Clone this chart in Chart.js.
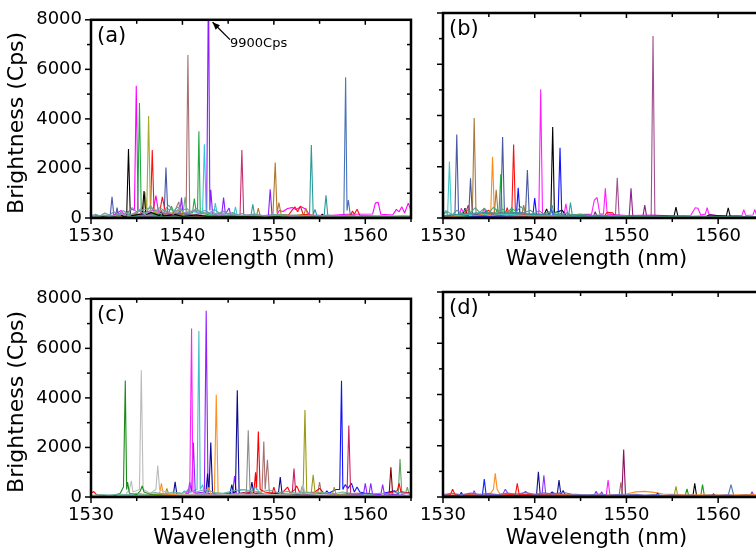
<!DOCTYPE html>
<html>
<head>
<meta charset="utf-8">
<script src="https://cdn.jsdelivr.net/npm/chart.js@4.4.1/dist/chart.umd.min.js"></script>
<style>
  html, body { margin: 0; padding: 0; background: #fff; overflow: hidden; }
  body { width: 756px; height: 552px; position: relative; }
  canvas { position: absolute; }
</style>
</head>
<body>
<canvas id="panelA" width="420" height="270" style="left:0;top:0"></canvas>
<canvas id="panelB" width="373" height="270" style="left:400px;top:0"></canvas>
<canvas id="panelC" width="420" height="270" style="left:0;top:279px"></canvas>
<canvas id="panelD" width="373" height="270" style="left:400px;top:279px"></canvas>
<script>
// axis ticks (nm / counts per second)
const wlTicks = [1530, 1535, 1540, 1545, 1550, 1555, 1560, 1565];
const cpsTicks = [0, 1000, 2000, 3000, 4000, 5000, 6000, 7000, 8000];

// strongest line in (a) runs off the top of the axis
const peakWl = 1542.85;
const peakCps = 9900;

// spectra, each trace is a list of [wavelength nm, brightness Cps]
const tracesA = [
  [[1530,30],[1540,40],[1550,30],[1565,40]],
  [[1530,90],[1530.5,150],[1531,80],[1531.5,200],[1532,120],[1532.5,250],[1533,140],[1533.5,300],[1534,180],[1534.5,420],[1535,250],[1535.5,380],[1536,200],[1536.5,500],[1537,260],[1537.5,420],[1538,300],[1538.5,520],[1539,260],[1539.5,450],[1540,300],[1540.5,380],[1541,220],[1541.5,400],[1542,250],[1542.5,300],[1543,180],[1543.5,350],[1544,200],[1544.5,280],[1545,150],[1545.5,220],[1546,120],[1546.5,180],[1547,100],[1548,150],[1549,90],[1550,130],[1551,80],[1552,120],[1553,90],[1554,110],[1555,80],[1556,120],[1557,70],[1558,100],[1559,60],[1560,90],[1561,60],[1562,80],[1563,60],[1564,90],[1565,70]],
  [[1530,50],[1531.2,100],[1532,60],[1533.4,150],[1534.2,90],[1535.2,300],[1535.9,140],[1536.8,350],[1537.6,180],[1538.3,250],[1539,150],[1539.7,420],[1540.2,200],[1541.2,300],[1542,150],[1543.2,250],[1544,120],[1545.2,200],[1546.5,100],[1547.8,160],[1549,70],[1550.2,110],[1552,60],[1554,90],[1556,60],[1558,80],[1560,50],[1562,70],[1565,50]],
  [[1530,100],[1530.6,60],[1531.5,120],[1532.5,80],[1533.5,200],[1534.5,150],[1535.5,300],[1536.5,400],[1537.5,250],[1538.5,350],[1539.5,280],[1540.1,300],[1540.3,850],[1540.5,200],[1541.5,300],[1542.5,200],[1543.5,150],[1544.5,200],[1546,100],[1547.5,120],[1549,80],[1550.5,150],[1552,90],[1554,100],[1556,80],[1558,100],[1560,60],[1562,80],[1564,70],[1565,80]],
  [[1530,40],[1530.8,90],[1531.5,50],[1532.6,70],[1533.2,180],[1533.5,60],[1533.9,70],[1534.1,2780],[1534.3,90],[1535,130],[1535.6,160],[1535.8,1090],[1536,140],[1536.6,220],[1537.5,90],[1537.7,300],[1537.9,80],[1539.2,140],[1540,60],[1541.5,120],[1543,50],[1546,70],[1549,40],[1552,60],[1555.1,60],[1555.3,160],[1555.5,50],[1558,40],[1562,60],[1565,40]],
  [[1530,30],[1531.5,60],[1533,90],[1534.6,150],[1535.1,200],[1535.3,4640],[1535.5,180],[1536.2,250],[1537,120],[1538.5,200],[1538.8,480],[1539.1,150],[1540,180],[1541.1,200],[1541.3,780],[1541.5,250],[1541.65,300],[1541.8,3500],[1541.95,200],[1543,120],[1545,80],[1547.5,100],[1550,60],[1554,80],[1558,60],[1561,50],[1565,60]],
  [[1530,20],[1532,50],[1534,90],[1535.7,200],[1535.9,1050],[1536.1,300],[1536.3,4120],[1536.5,250],[1537.2,200],[1538,160],[1539.5,250],[1539.8,450],[1540.1,120],[1542,90],[1545,60],[1550,40],[1555,50],[1560,40],[1565,30]],
  [[1530,30],[1532,40],[1534,80],[1535.4,150],[1535.6,420],[1535.8,120],[1536.5,200],[1536.7,2740],[1536.9,200],[1537.5,200],[1537.8,850],[1538.1,300],[1538.6,150],[1540,100],[1543,60],[1546,50],[1550,80],[1551.6,120],[1552,320],[1552.3,450],[1552.6,250],[1552.9,480],[1553.2,150],[1555,80],[1557,60],[1558.4,120],[1558.6,280],[1558.8,150],[1559.1,350],[1559.4,100],[1562,60],[1565,40]],
  [[1530,70],[1531,80],[1532.1,90],[1532.3,860],[1532.5,100],[1532.7,110],[1532.85,420],[1533.0,90],[1534.5,100],[1536,150],[1538,180],[1538.2,2040],[1538.4,150],[1539.5,200],[1541,110],[1543,90],[1545,60],[1548,50],[1552,60],[1556,50],[1560,40],[1565,40]],
  [[1530,50],[1533,60],[1536,120],[1539,150],[1539.6,650],[1539.8,200],[1540.4,150],[1540.6,6580],[1540.8,160],[1542,110],[1545,70],[1548,60],[1552,50],[1556,60],[1560,40],[1565,50]],
  [[1530,40],[1534,60],[1537,120],[1540,200],[1541,250],[1542.2,200],[1542.4,2980],[1542.6,200],[1543.4,120],[1543.6,600],[1543.8,150],[1545.6,100],[1545.8,450],[1546.0,100],[1548,70],[1552,50],[1556,60],[1560,40],[1565,50]],
  [[1530,40],[1534,70],[1537,90],[1539.5,120],[1539.75,300],[1539.9,830],[1540.05,200],[1541,130],[1542.65,200],[peakWl,peakCps],[1543.0,300],[1543.1,1140],[1543.3,150],[1544.3,150],[1544.5,820],[1544.7,150],[1545.1,400],[1545.3,120],[1547,80],[1549.4,100],[1549.6,1160],[1549.8,100],[1552,60],[1556,50],[1560,40],[1565,40]],
  [[1530,30],[1535,80],[1540,120],[1544,90],[1546.3,100],[1546.5,2740],[1546.7,120],[1548,70],[1552,60],[1556,40],[1560,50],[1565,30]],
  [[1530,20],[1534,60],[1537,100],[1540,120],[1544,70],[1548.1,80],[1548.3,400],[1548.5,90],[1549.9,120],[1550.15,2240],[1550.35,200],[1550.55,620],[1550.8,150],[1552,100],[1553.3,150],[1553.5,400],[1553.7,120],[1556,60],[1560,40],[1565,50]],
  [[1530,60],[1533,80],[1536,100],[1539,120],[1542,100],[1545,80],[1547.5,100],[1547.7,550],[1547.9,100],[1550,90],[1553.9,100],[1554.1,2950],[1554.3,120],[1554.5,350],[1554.7,100],[1555.5,100],[1555.7,920],[1555.9,90],[1558,60],[1562,70],[1565,60]],
  [[1530,40],[1535,60],[1540,80],[1545,60],[1550,50],[1555,60],[1557.65,80],[1557.85,5680],[1558.0,300],[1558.15,720],[1558.35,150],[1559,60],[1561,50],[1565,40]],
  [[1530,60],[1531,80],[1532.5,120],[1533.3,300],[1533.6,150],[1534.5,350],[1534.75,300],[1534.95,5340],[1535.15,300],[1536,250],[1536.8,300],[1537.1,900],[1537.4,200],[1538.5,150],[1540,100],[1544,80],[1548,90],[1550.3,120],[1550.6,300],[1551,260],[1551.5,380],[1552,420],[1552.4,340],[1553,450],[1553.5,350],[1553.9,120],[1556,100],[1558,150],[1560.8,160],[1561.1,600],[1561.4,640],[1561.7,150],[1563,120],[1563.4,350],[1563.7,250],[1564,450],[1564.3,200],[1564.7,600],[1565,300]]
];
const colorsA = ['#207a20', '#6aa0a0', '#b080d0', '#70a880', '#000000', '#22aa44', '#a8a830', '#ff1010', '#4858a8', '#a87070',
  '#30c8d8', '#8a1cff', '#c83070', '#b07828', '#2a9a9a', '#4a74b8', '#ff00ff'];

const tracesB = [
  [[1530,20],[1540,25],[1550,20],[1565,25]],
  [[1530,150],[1530.5,250],[1531,120],[1531.5,300],[1532,180],[1532.5,350],[1533,200],[1533.5,400],[1534,220],[1534.5,380],[1535,200],[1535.5,420],[1536,250],[1536.5,350],[1537,200],[1537.5,380],[1538,250],[1538.5,450],[1539,220],[1539.5,300],[1540,180],[1540.5,280],[1541,150],[1541.5,250],[1542,180],[1542.5,220],[1543,150],[1543.5,200],[1544,120],[1545,150],[1546,90],[1547,120],[1548,80],[1549,110],[1550,70],[1552,90],[1554,60],[1556,80],[1558,60],[1560,70],[1562,50],[1565,60]],
  [[1530,100],[1532,150],[1534,200],[1536,180],[1538,200],[1539.5,150],[1541.7,150],[1541.9,500],[1542.1,150],[1543.7,100],[1543.9,600],[1544.1,100],[1546,80],[1550,60],[1555,70],[1560,60],[1565,50]],
  [[1530,60],[1530.3,300],[1530.5,120],[1530.7,2200],[1530.9,120],[1531.6,100],[1533,150],[1534,200],[1535,100],[1537,150],[1539,100],[1542,90],[1545,60],[1550,50],[1555,40],[1560,50],[1565,40]],
  [[1530,80],[1531.3,100],[1531.5,3260],[1531.7,120],[1532.8,100],[1533.0,1550],[1533.2,120],[1534.5,200],[1536.3,150],[1536.5,3160],[1536.7,150],[1538,200],[1539.0,200],[1539.2,1870],[1539.4,150],[1541,100],[1544,80],[1548,60],[1552,50],[1556,60],[1560,40],[1565,50]],
  [[1530,50],[1532,100],[1533.2,150],[1533.4,3900],[1533.6,150],[1534.8,200],[1535.6,200],[1535.8,1100],[1536,200],[1537,250],[1538.6,150],[1538.8,500],[1539,150],[1541,100],[1545,70],[1550,50],[1555,40],[1560,50],[1565,40]],
  [[1530,40],[1532.6,100],[1532.8,350],[1533,100],[1534.5,150],[1535.2,150],[1535.4,2390],[1535.6,150],[1537,100],[1540,80],[1545,60],[1550,50],[1555,40],[1560,40],[1565,30]],
  [[1530,30],[1532,60],[1534,100],[1535.7,120],[1535.9,350],[1536.1,150],[1536.3,1720],[1536.45,150],[1537.3,150],[1537.5,420],[1537.7,120],[1540,80],[1545,60],[1550,40],[1555,50],[1560,40],[1565,30]],
  [[1530,50],[1531.5,100],[1532.5,200],[1532.75,500],[1533,150],[1534,150],[1535,300],[1535.3,100],[1536.8,150],[1537.0,400],[1537.2,150],[1537.5,150],[1537.7,2870],[1537.9,150],[1539,150],[1540.5,100],[1543,80],[1546,60],[1547.6,80],[1547.9,220],[1548.5,200],[1548.8,60],[1552,50],[1556,40],[1560,50],[1565,40]],
  [[1530,40],[1533,60],[1536,80],[1538.0,100],[1538.2,1180],[1538.4,100],[1539.8,100],[1540.0,780],[1540.2,120],[1541.6,100],[1541.8,380],[1542,120],[1542.55,120],[1542.76,2740],[1542.95,120],[1545,60],[1550,50],[1555,40],[1560,50],[1565,40]],
  [[1530,60],[1531,100],[1532.2,150],[1532.4,380],[1532.6,150],[1534,120],[1537,100],[1539,80],[1541,120],[1541.3,350],[1541.5,150],[1541.76,200],[1541.96,3550],[1542.15,200],[1543,300],[1543.4,100],[1545,120],[1548,80],[1550,60],[1552,80],[1555.2,80],[1555.4,420],[1555.6,80],[1557,60],[1558.8,80],[1559,120],[1560.9,80],[1561.1,400],[1561.3,80],[1563,60],[1565,60]],
  [[1530,20],[1535,40],[1540,30],[1545,40],[1546.4,60],[1546.6,250],[1546.8,60],[1550.3,60],[1550.5,1160],[1550.7,60],[1551.8,60],[1552.0,500],[1552.2,60],[1555,30],[1560,20],[1565,30]],
  [[1530,40],[1535,80],[1540,60],[1545,70],[1548.8,80],[1549.0,1570],[1549.2,80],[1550,60],[1552.7,80],[1552.9,7100],[1553.1,80],[1555,50],[1560,40],[1565,40]],
  [[1530,80],[1531,120],[1531.8,120],[1532,380],[1532.3,150],[1534.2,150],[1534.5,350],[1534.8,150],[1536,150],[1538.5,120],[1540.45,150],[1540.65,5020],[1540.85,150],[1542,100],[1543.2,120],[1543.4,550],[1543.6,120],[1546.2,150],[1546.5,700],[1546.8,800],[1547.1,150],[1547.5,150],[1547.7,1160],[1547.9,150],[1550,100],[1553,120],[1555,80],[1557,100],[1557.5,400],[1557.8,380],[1558.1,120],[1558.6,150],[1558.8,400],[1559.0,150],[1560,80],[1562.6,100],[1562.8,330],[1563,100],[1563.8,120],[1564.0,330],[1564.2,100],[1565,60]]
];
const colorsB = ['#202060', '#50a080', '#30a0a0', '#40c8c8', '#4a58a0', '#a87838', '#ff8a10', '#20b040', '#ff1010',
  '#1010ff', '#000000', '#8a2088', '#a05090', '#ff20ff'];

const tracesC = [
  [[1530,60],[1531,100],[1532,70],[1533,120],[1534,90],[1535,150],[1536,100],[1537,180],[1538,120],[1539,200],[1540,150],[1540.5,250],[1541.5,200],[1542.5,300],[1543.5,180],[1544.5,150],[1545.5,250],[1546.5,300],[1547.5,250],[1548.5,200],[1549.5,280],[1550.5,180],[1551.5,220],[1552.5,150],[1553.5,200],[1554.5,150],[1555.5,180],[1556.5,120],[1557.5,200],[1558.5,150],[1559.5,120],[1560.5,100],[1561.5,150],[1562.5,120],[1563.5,180],[1564.5,150],[1565,120]],
  [[1530,20],[1531.5,60],[1532.5,40],[1533.2,150],[1533.55,400],[1533.75,4700],[1533.9,300],[1534.0,600],[1534.2,150],[1535.0,100],[1535.4,250],[1535.6,450],[1535.8,200],[1536.5,100],[1538,60],[1540,40],[1545,30],[1550,40],[1555,30],[1560,40],[1565,30]],
  [[1530,50],[1532,80],[1533.8,100],[1534.2,300],[1534.4,650],[1534.6,200],[1535.3,300],[1535.5,5120],[1535.7,300],[1536.5,150],[1537.1,300],[1537.3,1270],[1537.5,300],[1538.5,150],[1540,100],[1543,80],[1546,120],[1550,100],[1553.0,150],[1553.2,500],[1553.4,150],[1556,80],[1560,60],[1565,50]],
  [[1530,30],[1535,50],[1540,60],[1545,80],[1546.8,150],[1547.0,200],[1547.2,2690],[1547.4,200],[1548,100],[1550,60],[1552.9,150],[1553.1,450],[1553.3,150],[1555,60],[1558,50],[1561,40],[1565,30]],
  [[1530,30],[1535,60],[1537.5,120],[1537.7,550],[1537.9,120],[1540,90],[1542.7,150],[1542.9,400],[1543.1,100],[1543.5,200],[1543.7,4130],[1543.9,150],[1545,80],[1550,60],[1555,40],[1560,50],[1565,30]],
  [[1530,40],[1535,60],[1538.1,100],[1538.3,350],[1538.5,100],[1540,80],[1545,60],[1550,70],[1553.2,150],[1553.4,3510],[1553.6,150],[1554.1,200],[1554.3,900],[1554.5,200],[1556.4,100],[1556.6,400],[1556.8,100],[1560,60],[1565,40]],
  [[1530,20],[1535,40],[1539.0,80],[1539.2,610],[1539.4,80],[1541,100],[1542.55,120],[1542.75,950],[1542.9,200],[1543.1,2200],[1543.3,120],[1544.5,100],[1545.2,120],[1545.4,500],[1545.6,150],[1545.8,200],[1546.0,4310],[1546.2,150],[1547.4,150],[1547.6,600],[1547.8,150],[1549,100],[1550.5,150],[1550.7,800],[1550.9,120],[1553,60],[1556,40],[1560,50],[1565,30]],
  [[1530,40],[1535,60],[1538,80],[1540.4,120],[1540.6,300],[1540.8,200],[1541.0,6800],[1541.15,200],[1542,100],[1545,60],[1550,50],[1555,40],[1560,50],[1565,40]],
  [[1530,30],[1535,50],[1539,80],[1540.6,100],[1540.8,600],[1541.0,200],[1541.2,2200],[1541.4,150],[1542.4,200],[1542.6,7520],[1542.8,150],[1544,100],[1545.5,150],[1545.7,850],[1545.9,150],[1548,80],[1552,60],[1555,70],[1558,100],[1559.8,100],[1560.0,550],[1560.2,100],[1560.4,100],[1560.6,550],[1560.8,100],[1561.7,100],[1561.9,500],[1562.1,100],[1564,80],[1565,60]],
  [[1530,60],[1533,80],[1536,100],[1540.0,150],[1540.2,250],[1540.4,120],[1541.6,300],[1541.8,6700],[1541.95,300],[1542.2,500],[1542.4,150],[1544,100],[1546.8,300],[1547.5,200],[1548,400],[1548.5,150],[1550,80],[1555,60],[1560,50],[1565,40]],
  [[1530,150],[1530.3,220],[1530.6,100],[1531.5,60],[1533,40],[1536,30],[1539,60],[1541,80],[1544,60],[1546,120],[1547,200],[1547.8,150],[1548.0,1000],[1548.1,300],[1548.3,2640],[1548.5,300],[1549,200],[1549.8,150],[1550.0,400],[1550.2,150],[1551,200],[1551.5,400],[1551.8,150],[1552.3,300],[1552.5,450],[1552.8,200],[1553.5,150],[1554.5,200],[1555,350],[1555.5,150],[1557,100],[1559,150],[1561,120],[1562.5,150],[1563.5,250],[1563.7,550],[1563.9,200],[1565,150]],
  [[1530,40],[1535,60],[1540,80],[1545,100],[1547.8,150],[1548.7,200],[1548.9,2240],[1549.05,300],[1549.3,1500],[1549.5,200],[1550.5,150],[1553,100],[1554.8,150],[1555,600],[1555.2,150],[1558,80],[1562,60],[1565,50]],
  [[1530,30],[1535,40],[1540,50],[1545,60],[1550,80],[1552.0,100],[1552.2,1150],[1552.4,100],[1555,60],[1558.0,100],[1558.2,2890],[1558.4,100],[1560,60],[1565,40]],
  [[1530,30],[1535,40],[1540,50],[1545,60],[1550,80],[1553,100],[1555.6,150],[1555.8,250],[1556.0,150],[1556.8,300],[1557.2,300],[1557.4,4690],[1557.55,300],[1557.8,500],[1558.1,350],[1558.5,550],[1558.8,200],[1559.1,400],[1559.4,200],[1560,150],[1561,100],[1562,150],[1563.2,250],[1563.5,150],[1564,200],[1565,150]],
  [[1530,10],[1540,20],[1550,30],[1560,40],[1562.6,60],[1562.8,1200],[1563.0,60],[1565,30]],
  [[1530,30],[1540,40],[1550,50],[1560,60],[1563.6,100],[1563.8,1530],[1564.0,100],[1564.4,150],[1564.6,400],[1564.8,100],[1565,80]]
];
const colorsC = ['#70b0a0', '#1a8a1a', '#bbbbbb', '#8c8c8c', '#ff9020', '#9a9a18', '#0a0a90', '#ff20ff', '#9020ff',
  '#40c0c8', '#ff0000', '#a87070', '#c82060', '#1010ff', '#800000', '#60a060'];

const tracesD = [
  [[1530,20],[1538,30],[1546,20],[1555,30],[1565,20]],
  [[1530,100],[1531,140],[1532,90],[1533,150],[1534,110],[1535,130],[1536,100],[1537,150],[1538,120],[1539,170],[1540,110],[1541,160],[1542,120],[1543,180],[1544,120],[1545,100],[1546,90],[1547,120],[1548,80],[1549,100],[1550,90],[1551,110],[1552,80],[1553,100],[1554,70],[1555,90],[1556,70],[1557,80],[1558,60],[1559,80],[1560,70],[1561,90],[1562,60],[1563,80],[1564,60],[1565,70]],
  [[1530,80],[1530.8,100],[1531.05,300],[1531.3,100],[1533,80],[1535,60],[1537.9,100],[1538.1,530],[1538.3,100],[1540,80],[1544,60],[1548,50],[1552,40],[1556,50],[1560,40],[1565,50]],
  [[1530,50],[1531.8,60],[1532,180],[1532.2,60],[1534.3,80],[1534.5,700],[1534.7,80],[1536,60],[1540,80],[1545,60],[1550,50],[1553.2,60],[1553.4,150],[1553.6,50],[1556,40],[1560,50],[1565,40]],
  [[1530,80],[1532,100],[1534,90],[1535.2,150],[1535.5,300],[1535.7,920],[1535.9,300],[1536.2,120],[1538,100],[1541,110],[1544,90],[1548,80],[1550,120],[1551,200],[1552,220],[1553,180],[1554,120],[1556,100],[1558,90],[1561,80],[1563,100],[1565,90]],
  [[1530,40],[1532,60],[1533.2,80],[1533.4,250],[1533.6,80],[1536.5,100],[1536.8,300],[1537.1,120],[1538.5,100],[1539,220],[1539.4,100],[1540.8,100],[1541.0,850],[1541.2,100],[1542,150],[1544,60],[1546.5,80],[1546.7,220],[1546.9,80],[1547.1,60],[1547.3,200],[1547.5,60],[1550,50],[1555,40],[1560,50],[1563.5,60],[1563.7,200],[1563.9,60],[1565,50]],
  [[1530,40],[1535,50],[1540.2,80],[1540.4,980],[1540.6,80],[1541.6,100],[1541.9,200],[1542.2,100],[1542.45,80],[1542.65,660],[1542.85,100],[1543.1,250],[1543.3,100],[1545,60],[1550,40],[1555,50],[1560,40],[1565,40]],
  [[1530,60],[1535,50],[1540,60],[1545,50],[1547.8,80],[1548.0,660],[1548.2,80],[1550,60],[1555,50],[1560,40],[1565,50]],
  [[1530,30],[1540,40],[1549.2,60],[1549.4,570],[1549.6,60],[1555,40],[1565,30]],
  [[1530,30],[1540,30],[1549.5,50],[1549.7,1850],[1549.9,50],[1555,30],[1565,30]],
  [[1530,20],[1550,30],[1555.2,40],[1555.4,415],[1555.6,40],[1565,30]],
  [[1530,20],[1550,30],[1556.4,40],[1556.6,320],[1556.8,40],[1558.1,40],[1558.3,480],[1558.5,40],[1565,30]],
  [[1530,30],[1545,40],[1557.25,40],[1557.45,530],[1557.65,40],[1559.3,60],[1559.5,120],[1559.7,50],[1565,40]],
  [[1530,30],[1550,40],[1561.1,60],[1561.4,480],[1561.7,60],[1565,40]]
];
const colorsD = ['#903010', '#7070c0', '#ff1010', '#1020ff', '#ff8c20', '#9030ff', '#101090', '#ff20ff', '#a06060',
  '#8a1060', '#9a9a20', '#109a10', '#000000', '#4a78b8'];

Chart.defaults.font.family = '"DejaVu Sans", Verdana, sans-serif';
Chart.defaults.color = '#000';

// box, tick marks, axis titles, panel letter and the off-scale peak note
const framePlugin = {
  id: 'frame',
  afterDatasetsDraw(chart, args, opts) {
    const { ctx, chartArea: ca, scales: { x, y } } = chart;
    ctx.save();
    ctx.strokeStyle = '#000';
    ctx.fillStyle = '#000';
    ctx.lineWidth = 1.5;
    const seg = (x1, y1, x2, y2) => { ctx.beginPath(); ctx.moveTo(x1, y1); ctx.lineTo(x2, y2); ctx.stroke(); };
    wlTicks.forEach(v => {
      const px = x.getPixelForValue(v);
      const major = v % 10 === 0;
      seg(px, ca.bottom, px, ca.bottom + (major ? 6 : 4));
      seg(px, ca.top, px, ca.top + (major ? 5 : 4));
    });
    cpsTicks.forEach(v => {
      const py = y.getPixelForValue(v);
      const major = v % 2000 === 0;
      seg(ca.left - (major ? 6 : 4), py, ca.left, py);
      seg(ca.right, py, ca.right - (major ? 5 : 4), py);
    });
    ctx.lineWidth = 2.5;
    ctx.strokeRect(ca.left, ca.top, ca.right - ca.left, ca.bottom - ca.top);

    ctx.font = '21px "DejaVu Sans"';
    ctx.textAlign = 'left';
    ctx.textBaseline = 'top';
    ctx.fillText(opts.tag, ca.left + 6, ca.top + 6);

    ctx.textAlign = 'center';
    ctx.textBaseline = 'middle';
    ctx.font = '21px "DejaVu Sans"';
    ctx.fillText('Wavelength (nm)', (ca.left + ca.right) / 2 - 7, ca.bottom + 42);
    if (opts.yTitle) {
      ctx.save();
      ctx.translate(17, (ca.top + ca.bottom) / 2 + 4);
      ctx.rotate(-Math.PI / 2);
      ctx.font = '22px "DejaVu Sans"';
      ctx.fillText('Brightness (Cps)', 0, 0);
      ctx.restore();
    }
    if (opts.note) {
      const tipX = x.getPixelForValue(1543.3), tipY = y.getPixelForValue(7900);
      const tailX = x.getPixelForValue(1545.2), tailY = y.getPixelForValue(7200);
      ctx.lineWidth = 1.3;
      seg(tailX, tailY, tipX, tipY);
      const ang = Math.atan2(tipY - tailY, tipX - tailX);
      ctx.beginPath();
      ctx.moveTo(tipX, tipY);
      ctx.lineTo(tipX - 8 * Math.cos(ang - 0.4), tipY - 8 * Math.sin(ang - 0.4));
      ctx.lineTo(tipX - 8 * Math.cos(ang + 0.4), tipY - 8 * Math.sin(ang + 0.4));
      ctx.closePath();
      ctx.fill();
      ctx.font = '13px "DejaVu Sans"';
      ctx.textAlign = 'left';
      ctx.fillText(peakCps + 'Cps', tailX, y.getPixelForValue(7050));
    }
    ctx.restore();
  }
};

function drawPanel(id, traces, colors, cfg) {
  const datasets = traces.map((t, i) => ({
    data: t.map(p => ({ x: p[0], y: p[1] })),
    borderColor: colors[i],
    borderWidth: 1.1,
    borderJoinStyle: 'bevel',
    pointRadius: 0,
    tension: 0,
    fill: false
  }));
  return new Chart(document.getElementById(id), {
    type: 'line',
    data: { datasets },
    options: {
      responsive: false,
      animation: false,
      events: [],
      layout: { padding: { left: 0, right: 9, top: 13, bottom: 0 } },
      plugins: {
        legend: { display: false },
        tooltip: { enabled: false },
        frame: { tag: cfg.tag, yTitle: cfg.yTitle, note: cfg.note }
      },
      scales: {
        x: {
          type: 'linear',
          min: 1530,
          max: 1565,
          afterFit: s => { s.height = 52; },
          grid: { display: false, drawTicks: false },
          border: { display: false },
          ticks: { stepSize: 10, includeBounds: false, padding: 8, maxRotation: 0, autoSkip: false,
            font: { size: 18 }, callback: v => String(v) }
        },
        y: {
          min: 0,
          max: 8000,
          afterFit: s => { s.width = cfg.axisW; },
          grid: { display: false, drawTicks: false },
          border: { display: false },
          ticks: { display: cfg.yTitle, stepSize: 2000, padding: 9, font: { size: 18 }, callback: v => String(v) }
        }
      }
    },
    plugins: [framePlugin]
  });
}

drawPanel('panelA', tracesA, colorsA, { tag: '(a)', yTitle: true, note: true, axisW: 91 });
drawPanel('panelB', tracesB, colorsB, { tag: '(b)', yTitle: false, note: false, axisW: 43 });
drawPanel('panelC', tracesC, colorsC, { tag: '(c)', yTitle: true, note: false, axisW: 91 });
drawPanel('panelD', tracesD, colorsD, { tag: '(d)', yTitle: false, note: false, axisW: 43 });
</script>
</body>
</html>
